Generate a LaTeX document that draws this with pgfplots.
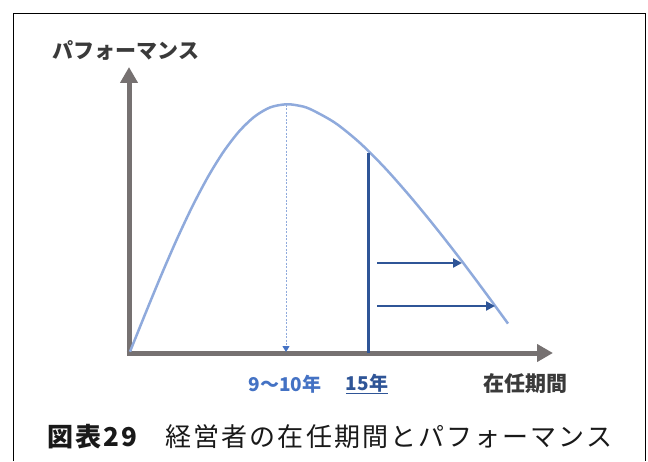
\documentclass[border=0pt]{standalone}
\usepackage{fontspec}
\usepackage{pgfplots}
\pgfplotsset{compat=1.18}
\usetikzlibrary{arrows.meta}
\setmainfont{Noto Sans CJK JP}
\newfontfamily\capfont[LetterSpace=8]{Noto Sans CJK JP}
\definecolor{axgray}{HTML}{767171}
\definecolor{curveblue}{HTML}{8FAADC}
\definecolor{midblue}{HTML}{4472C4}
\definecolor{darkblue}{HTML}{2F5597}
\definecolor{txtgray}{HTML}{3A3A3A}
\begin{document}
\begin{tikzpicture}
\begin{axis}[
  scale only axis, width=648pt, height=459pt,
  xmin=0, xmax=648, ymin=0, ymax=459,
  hide axis, clip=false]
\path (axis cs:0,0) rectangle (axis cs:648,459);
% frame
\addplot[black, line width=0.8pt] coordinates {(13,-2) (13,446) (645,446) (645,-2)};
% axes
\addplot[axgray, line width=5pt, -{Triangle[width=17pt,length=16pt]}] coordinates {(129,103.5) (129,392)};
\addplot[axgray, line width=5pt, -{Triangle[width=17pt,length=16pt]}] coordinates {(126.5,106) (553,106)};
% curve
\addplot[curveblue, line width=2.5pt, smooth] coordinates {
(130,107.3) (145.6,146.0) (161.2,183.7) (176.8,219.6) (192.4,252.7) (208,282.2)
(223.6,307.4) (239.2,327.7) (254.8,342.6) (270.4,351.7) (286,354.7)
(298,353.5) (310,350.0) (335,336.2) (360,316.0) (385,291.0) (410,262.7)
(435,232.3) (460,200.3) (485,166.9) (508,135.4)};
% dotted peak line
\addplot[curveblue, line width=0.9pt, dash pattern=on 2pt off 1.5pt,
  -{Triangle[width=7pt,length=6pt,color=midblue]}] coordinates {(286,354) (286,107)};
% 15-year line
\addplot[darkblue, line width=3pt] coordinates {(368,306.5) (368,106)};
% arrows
\addplot[darkblue, line width=2.5pt, -{Triangle[width=9pt,length=9pt]}] coordinates {(377,196) (462,196)};
\addplot[darkblue, line width=2.5pt, -{Triangle[width=9pt,length=9pt]}] coordinates {(377,153) (495,153)};
% labels
\node[txtgray, font=\fontsize{21}{23}\selectfont\bfseries] at (axis cs:126,409) {パフォーマンス};
\node[midblue, font=\fontsize{19}{21}\selectfont\bfseries] at (axis cs:285,75) {9〜10年};
\node[darkblue, font=\fontsize{19}{21}\selectfont\bfseries] at (axis cs:367,75) {\underline{15年}};
\node[txtgray, font=\fontsize{21}{23}\selectfont\bfseries] at (axis cs:525,75) {在任期間};
\node[black!90, font=\capfont\fontsize{26}{28}\selectfont] at (axis cs:330,22) {{\bfseries 図表29}　経営者の在任期間とパフォーマンス};
\end{axis}
\end{tikzpicture}
\end{document}
